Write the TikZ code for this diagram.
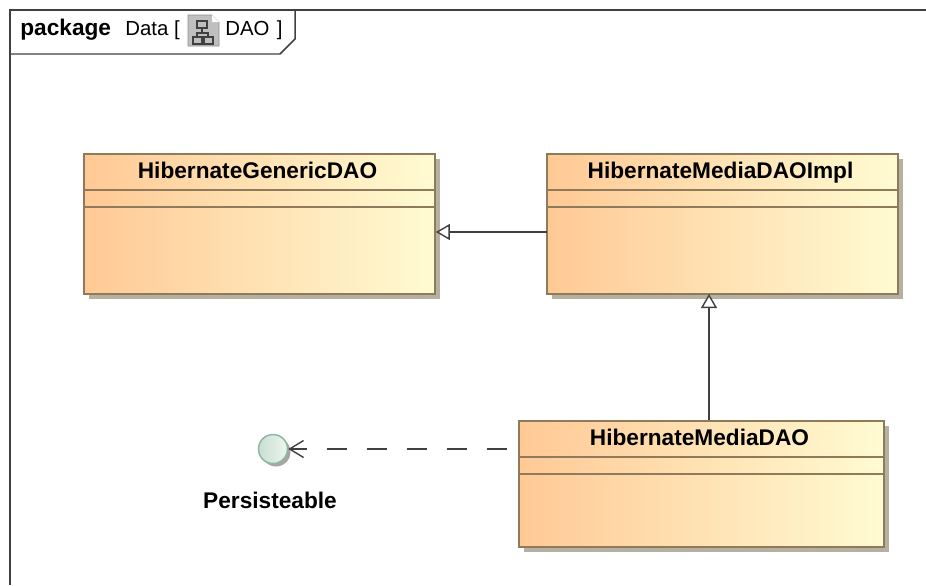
\documentclass[tikz,border=0pt]{standalone}
\usepackage{fontspec}
\setmainfont{Liberation Sans}
\usetikzlibrary{arrows.meta, positioning, shadows}
\definecolor{frameline}{HTML}{404040}
\definecolor{boxline}{HTML}{8F7A5C}
\definecolor{boxleft}{HTML}{FFC995}
\definecolor{boxright}{HTML}{FFFBD2}
\definecolor{shadowgrey}{HTML}{B5B0A0}
\definecolor{circleline}{HTML}{8DB8A4}
\definecolor{circleleft}{HTML}{C9DFD3}
\definecolor{circleright}{HTML}{EDF5F0}
\tikzset{
  classbox/.style={draw=boxline, line width=1pt, left color=boxleft, right color=boxright,
    inner sep=0pt, drop shadow={shadow xshift=0.1cm, shadow yshift=-0.1cm, fill=shadowgrey, opacity=1}},
  classname/.style={inner sep=0pt, minimum height=0.72cm, text height=10pt, text depth=2pt,
    font=\fontsize{12.9}{14}\selectfont\bfseries},
  framelabel/.style={inner sep=0pt, anchor=base west, font=\fontsize{11.6}{14}\selectfont},
  genarrow/.style={draw=frameline, line width=0.8pt, {Triangle[open, fill=white, length=0.28cm, width=0.32cm]}-},
  deparrow/.style={draw=frameline, line width=0.8pt, dash pattern=on 0.4cm off 0.4cm, dash phase=0.06cm,
    {Straight Barb[length=0.28cm, width=0.34cm]}-}
}
\begin{document}
\begin{tikzpicture}[x=0.02cm, y=-0.02cm]
  \useasboundingbox (0,0) rectangle (926,585);

  % Package frame
  \draw[frameline, line width=0.85pt] (10,585) -- (10,10) -- (926,10);
  \draw[frameline, line width=0.85pt] (10,54) -- (280,54) -- (295,39) -- (295,10);
  \node[framelabel] (pkgkind) at (20,35) {\fontsize{12.9}{14}\selectfont\bfseries package};
  \node[framelabel] (pkgname) at (125,35) {Data [};
  \node[framelabel] (pkgdiagram) at (225,35) {DAO \hspace{1pt}]};

  % Diagram icon
  \fill[black!25] (188,15) -- (212,15) -- (219,22) -- (219,46) -- (188,46) -- cycle;
  \draw[black!45, line width=0.4pt] (188,15) -- (212,15) -- (219,22) -- (219,46) -- (188,46) -- cycle;
  \fill[white] (212,15) -- (219,22) -- (212,22) -- cycle;
  \draw[black!75, line width=0.7pt] (197,21) rectangle (207,28) (193,37) rectangle (202,44) (204,37) rectangle (213,44)
    (202,28) -- (202,33) (197,37) -- (197,33) -- (208,33) -- (208,37);

  % Classes
  \node[classbox, minimum width=7.02cm, minimum height=2.8cm] (generic) at (259.5,224) {};
  \node[classbox, minimum width=7.02cm, minimum height=2.8cm] (impl) at (722.5,224) {};
  \node[classbox, minimum width=7.3cm, minimum height=2.52cm] (dao) at (701.5,484) {};
  \node[classname, below=0pt of generic.north, xshift=-0.04cm] (genericname) {HibernateGenericDAO};
  \node[classname, below=0pt of impl.north, xshift=-0.04cm] (implname) {HibernateMediaDAOImpl};
  \node[classname, below=0pt of dao.north, xshift=-0.04cm] (daoname) {HibernateMediaDAO};
  \foreach \cls in {generic,impl,dao} {
    \draw[boxline, line width=1pt] (\cls name.south -| \cls.west) -- (\cls name.south -| \cls.east);
    \draw[boxline, line width=1pt] ([yshift=-0.34cm]\cls name.south -| \cls.west) -- ([yshift=-0.34cm]\cls name.south -| \cls.east);
  }

  % Interface
  \node[circle, draw=circleline, line width=0.85pt, minimum size=0.58cm, inner sep=0pt,
    left color=circleleft, right color=circleright,
    drop shadow={shadow xshift=0.06cm, shadow yshift=-0.06cm, fill=black!35, opacity=1}] (persist) at (273,449) {};
  \node[classname] (persistname) at (270,501) {Persisteable};

  % Connectors
  \coordinate (implside) at (547,232);
  \coordinate (implfoot) at (709,294);
  \draw[genarrow] (implside -| generic.east) -- (implside);
  \draw[genarrow] (implfoot) -- (implfoot |- dao.north);
  \draw[deparrow] (persist.east) -- (persist.east -| dao.west);
\end{tikzpicture}
\end{document}
